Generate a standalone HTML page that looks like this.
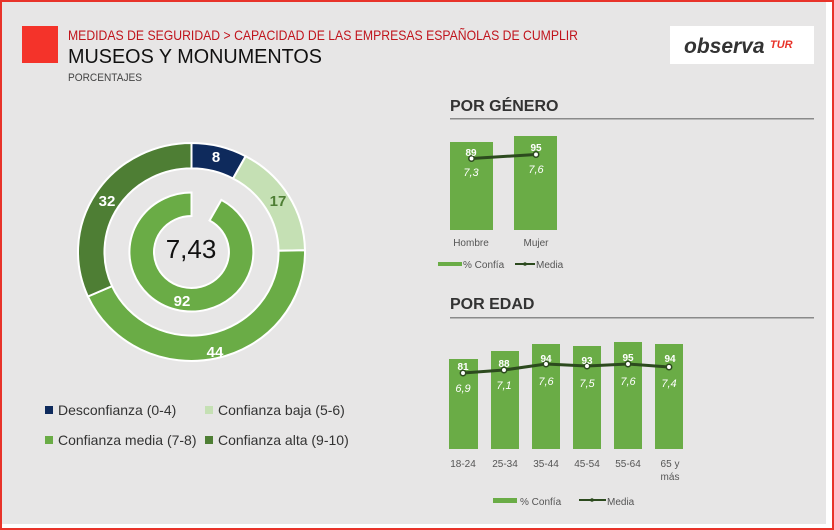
<!DOCTYPE html>
<html><head><meta charset="utf-8"><style>
html,body{margin:0;padding:0;}
body{width:834px;height:530px;position:relative;overflow:hidden;background:#fff;font-family:"Liberation Sans",sans-serif;}
#frame{position:absolute;left:0;top:0;width:830px;height:526px;border:2px solid #e8332a;background:#fff;}
#bg{position:absolute;left:2px;top:2px;width:824px;height:522px;background:#e7e6e6;}
</style></head><body>
<div id="frame"></div><div id="bg"></div>
<svg width="834" height="530" style="position:absolute;left:0;top:0" font-family="Liberation Sans, sans-serif">
<rect x="22" y="26" width="36" height="37" fill="#f4332a"/>
<text x="68" y="40" font-size="14" fill="#c0141c" textLength="510" lengthAdjust="spacingAndGlyphs">MEDIDAS DE SEGURIDAD &gt; CAPACIDAD DE LAS EMPRESAS ESPAÑOLAS DE CUMPLIR</text>
<text x="68" y="63" font-size="20" fill="#111" textLength="254" lengthAdjust="spacingAndGlyphs">MUSEOS Y MONUMENTOS</text>
<text x="68" y="81" font-size="11" fill="#444" textLength="74" lengthAdjust="spacingAndGlyphs">PORCENTAJES</text>
<rect x="670" y="26" width="144" height="38" fill="#fff"/>
<text x="684" y="53" font-size="21" font-weight="bold" font-style="italic" fill="#333">observa</text>
<text x="770" y="48" font-size="11" font-weight="bold" font-style="italic" fill="#e8332a">TUR</text>

<g transform="translate(191.5,252) scale(113.5,109)" stroke="#fff" stroke-width="2">
<path vector-effect="non-scaling-stroke" d="M0,-1 A1,1 0 0 1 .4772,-.8788 L.366,-.674 A.767,.767 0 0 0 0,-.767Z" fill="#0e2a5c"/>
<path vector-effect="non-scaling-stroke" d="M.4772,-.8788 A1,1 0 0 1 .9999,-.0157 L.767,-.012 A.767,.767 0 0 0 .366,-.674Z" fill="#c5e0b4"/>
<path vector-effect="non-scaling-stroke" d="M.9999,-.0157 A1,1 0 0 1 -.9128,.4083 L-.700,.313 A.767,.767 0 0 0 .767,-.012Z" fill="#6aac46"/>
<path vector-effect="non-scaling-stroke" d="M-.9128,.4083 A1,1 0 0 1 0,-1 L0,-.767 A.767,.767 0 0 0 -.700,.313Z" fill="#4e7e34"/>
<path vector-effect="non-scaling-stroke" d="M.263,-.478 A.546,.546 0 1 1 0,-.546 L0,-.33 A.33,.33 0 1 0 .159,-.289Z" fill="#6aac46"/>
</g>
<g font-size="15" font-weight="bold" text-anchor="middle" fill="#fff">
<text x="216" y="162">8</text>
<text x="278" y="206" fill="#4e7e34">17</text>
<text x="215" y="357">44</text>
<text x="107" y="206">32</text>
<text x="182" y="306">92</text>
</g>
<text x="191" y="258" font-size="26" text-anchor="middle" fill="#111">7,43</text>

<g font-size="14" fill="#333">
<rect x="45" y="406" width="8" height="8" fill="#0e2a5c"/><text x="58" y="415">Desconfianza (0-4)</text>
<rect x="205" y="406" width="8" height="8" fill="#c5e0b4"/><text x="218" y="415">Confianza baja (5-6)</text>
<rect x="45" y="436" width="8" height="8" fill="#6aac46"/><text x="58" y="445">Confianza media (7-8)</text>
<rect x="205" y="436" width="8" height="8" fill="#4e7e34"/><text x="218" y="445">Confianza alta (9-10)</text>
</g>

<text x="450" y="111" font-size="16" font-weight="bold" fill="#333">POR GÉNERO</text>
<rect x="450" y="118" width="364" height="1.5" fill="#8a8a8a"/>
<rect x="450" y="142" width="43" height="88" fill="#6aac46"/>
<rect x="514" y="136" width="43" height="94" fill="#6aac46"/>
<polyline points="471.5,158.5 536,154.5" stroke="#2c4a1e" stroke-width="3" fill="none"/>
<g fill="#fff" stroke="#2c4a1e" stroke-width="1.5"><circle cx="471.5" cy="158.5" r="2.7"/><circle cx="536" cy="154.5" r="2.7"/></g>
<g font-size="10" font-weight="bold" fill="#fff" text-anchor="middle"><text x="471" y="156">89</text><text x="536" y="151">95</text></g>
<g font-size="11" font-style="italic" fill="#fff" text-anchor="middle"><text x="471" y="176">7,3</text><text x="536" y="173">7,6</text></g>
<g font-size="10" fill="#555" text-anchor="middle"><text x="471" y="246">Hombre</text><text x="536" y="246">Mujer</text></g>
<rect x="438" y="262" width="24" height="4" fill="#6aac46"/>
<text x="463" y="268" font-size="10" fill="#555">% Confía</text>
<line x1="515" y1="264" x2="535" y2="264" stroke="#2c4a1e" stroke-width="2"/><circle cx="525" cy="264" r="1.8" fill="#2c4a1e"/>
<text x="536" y="268" font-size="10" fill="#555">Media</text>

<text x="450" y="309" font-size="16" font-weight="bold" fill="#333">POR EDAD</text>
<rect x="450" y="317" width="364" height="1.5" fill="#8a8a8a"/>
<g fill="#6aac46">
<rect x="449" y="359" width="29" height="90"/><rect x="491" y="351" width="28" height="98"/>
<rect x="532" y="344" width="28" height="105"/><rect x="573" y="346" width="28" height="103"/>
<rect x="614" y="342" width="28" height="107"/><rect x="655" y="344" width="28" height="105"/>
</g>
<polyline points="463,373 504,370 546,364 587,366 628,364 669,367" stroke="#2c4a1e" stroke-width="3" fill="none"/>
<g fill="#fff" stroke="#2c4a1e" stroke-width="1.5"><circle cx="463" cy="373" r="2.7"/><circle cx="504" cy="370" r="2.7"/><circle cx="546" cy="364" r="2.7"/><circle cx="587" cy="366" r="2.7"/><circle cx="628" cy="364" r="2.7"/><circle cx="669" cy="367" r="2.7"/></g>
<g font-size="10" font-weight="bold" fill="#fff" text-anchor="middle">
<text x="463" y="370">81</text><text x="504" y="367">88</text><text x="546" y="362">94</text><text x="587" y="364">93</text><text x="628" y="361">95</text><text x="670" y="362">94</text></g>
<g font-size="11" font-style="italic" fill="#fff" text-anchor="middle">
<text x="463" y="392">6,9</text><text x="504" y="389">7,1</text><text x="546" y="385">7,6</text><text x="587" y="387">7,5</text><text x="628" y="385">7,6</text><text x="669" y="387">7,4</text></g>
<g font-size="10" fill="#555" text-anchor="middle">
<text x="463" y="467">18-24</text><text x="505" y="467">25-34</text><text x="546" y="467">35-44</text><text x="587" y="467">45-54</text><text x="628" y="467">55-64</text><text x="670" y="467">65 y</text><text x="670" y="480">más</text></g>
<rect x="493" y="498" width="24" height="5" fill="#6aac46"/>
<text x="520" y="505" font-size="10" fill="#555">% Confía</text>
<line x1="579" y1="500" x2="606" y2="500" stroke="#2c4a1e" stroke-width="2"/><circle cx="592" cy="500" r="1.8" fill="#2c4a1e"/>
<text x="607" y="505" font-size="10" fill="#555">Media</text>
</svg>
</body></html>
